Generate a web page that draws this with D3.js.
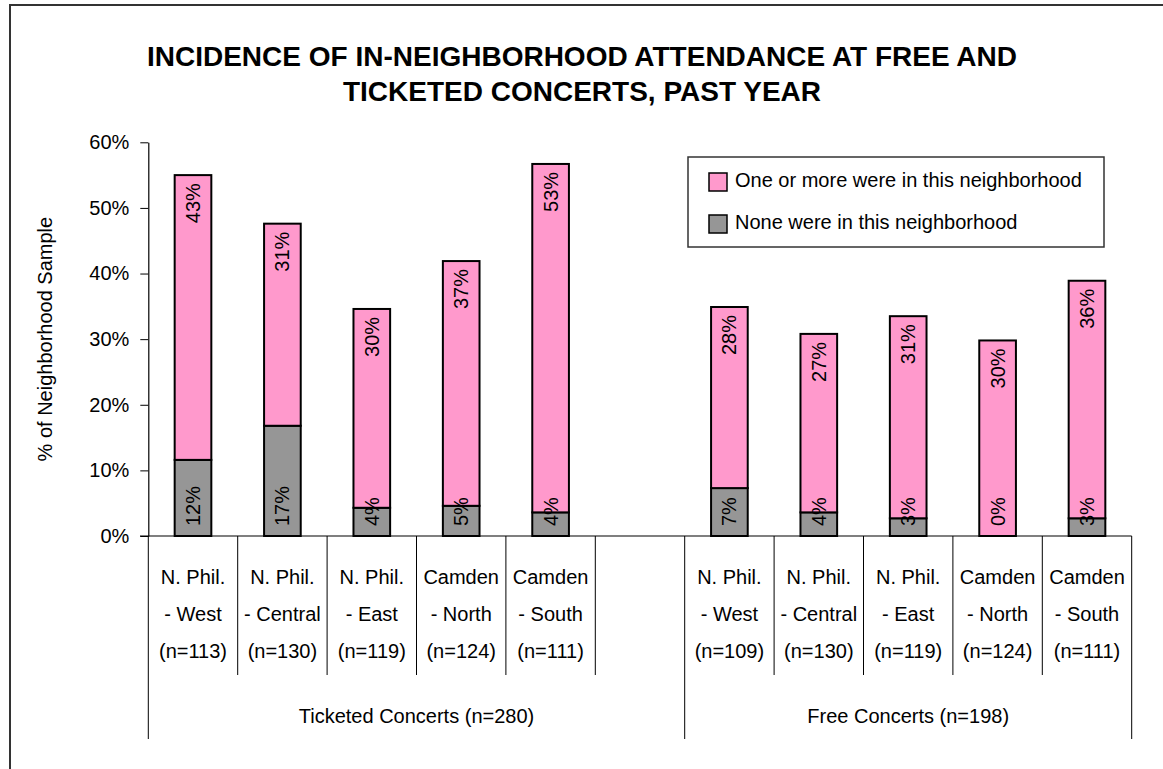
<!DOCTYPE html>
<html>
<head>
<meta charset="utf-8">
<script src="https://cdn.jsdelivr.net/npm/d3@7"></script>
<style>
  body { margin: 0; background: #fff; }
  svg { display: block; }
  text { font-family: "Liberation Sans", Arial, sans-serif; fill: #000; }
</style>
</head>
<body>
<svg id="chart" width="1163" height="769"></svg>
<script>
// ---- data ----
var groups = ["Ticketed Concerts (n=280)", "Free Concerts (n=198)"];
var areas = [["N. Phil.", "- West"], ["N. Phil.", "- Central"], ["N. Phil.", "- East"],
             ["Camden", "- North"], ["Camden", "- South"]];
var ticketedN = [113, 130, 119, 124, 111];
var freeN = [109, 130, 119, 124, 111];

var ticketedNone = [0.116, 0.168, 0.043, 0.046, 0.036];
var ticketedSome = [0.434, 0.308, 0.303, 0.373, 0.531];
var freeNone = [0.073, 0.036, 0.027, 0.000, 0.027];
var freeSome = [0.276, 0.272, 0.308, 0.298, 0.362];

var seriesNames = ["One or more were in this neighborhood", "None were in this neighborhood"];
var yTicks = [0, 0.1, 0.2, 0.3, 0.4, 0.5, 0.6];

var pink = "#FF99CC", grey = "#969696";

// build rows: 5 ticketed, one empty slot, 5 free
var rows = [];
areas.forEach(function(a, i) {
  rows.push({key: "T" + i, group: 0, lines: [a[0], a[1], "(n=" + ticketedN[i] + ")"],
             none: ticketedNone[i], some: ticketedSome[i]});
});
rows.push({key: "gap", group: 0, lines: null});
areas.forEach(function(a, i) {
  rows.push({key: "F" + i, group: 1, lines: [a[0], a[1], "(n=" + freeN[i] + ")"],
             none: freeNone[i], some: freeSome[i]});
});
var barRows = rows.filter(function(d) { return d.lines; });

var svg = d3.select("#chart");

// outer frame (runs off the right / bottom edge)
svg.append("rect").attr("x", 10).attr("y", 5).attr("width", 1200).attr("height", 800)
  .attr("fill", "none").attr("stroke", "#333").attr("stroke-width", 2);

// title
var title = ["INCIDENCE OF IN-NEIGHBORHOOD ATTENDANCE AT FREE AND", "TICKETED CONCERTS, PAST YEAR"];
svg.selectAll(".title").data(title).enter().append("text")
  .attr("class", "title")
  .attr("x", 582).attr("y", function(d, i) { return 66 + i * 35; })
  .attr("text-anchor", "middle")
  .style("font-size", "28px").style("font-weight", "bold")
  .text(function(d) { return d; });

// scales
var x = d3.scaleBand().domain(rows.map(function(d) { return d.key; }))
  .range([148.3, 1131.7]).padding(0);
var y = d3.scaleLinear().domain([0, 0.6]).range([536, 142.3]);
var barW = x.bandwidth() * 0.41;

// y axis
var yAxis = d3.axisLeft(y).tickValues(yTicks).tickFormat(d3.format(".0%"))
  .tickSize(8).tickSizeOuter(0).tickPadding(11);
var yg = svg.append("g").attr("transform", "translate(148.3,0)").call(yAxis);
yg.selectAll("text").style("font-size", "20px");
yg.selectAll("line, path").attr("stroke", "#000");
yg.select(".domain").attr("stroke-width", 1.2);

svg.append("text")
  .attr("transform", "translate(52," + (y(0.3)) + ") rotate(-90)")
  .attr("text-anchor", "middle")
  .style("font-size", "20px")
  .text("% of Neighborhood Sample");

// stacked bars
var stack = d3.stack().keys(["none", "some"]);
var layers = stack(barRows);
var colors = {none: grey, some: pink};

svg.selectAll(".layer").data(layers).enter().append("g")
  .attr("class", "layer")
  .attr("fill", function(d) { return colors[d.key]; })
  .selectAll("rect").data(function(d) { return d; }).enter().append("rect")
  .attr("x", function(d) { return x(d.data.key) + (x.bandwidth() - barW) / 2; })
  .attr("y", function(d) { return y(d[1]); })
  .attr("width", barW)
  .attr("height", function(d) { return y(d[0]) - y(d[1]); })
  .attr("stroke", "#000").attr("stroke-width", 2);

// value labels, rotated
var pct = d3.format(".0%");
barRows.forEach(function(d) {
  var cx = x(d.key) + x.bandwidth() / 2;
  svg.append("text")
    .attr("transform", "translate(" + cx + "," + (y(0) - 10) + ") rotate(-90)")
    .attr("dy", "0.35em").attr("text-anchor", "start")
    .style("font-size", "20px")
    .text(pct(d.none));
  svg.append("text")
    .attr("transform", "translate(" + cx + "," + (y(d.none + d.some) + 8) + ") rotate(-90)")
    .attr("dy", "0.35em").attr("text-anchor", "end")
    .style("font-size", "20px")
    .text(pct(d.some));
});

// x axis line + multi-level category separators
svg.append("line").attr("x1", 140).attr("x2", x.range()[1])
  .attr("y1", y(0)).attr("y2", y(0)).attr("stroke", "#000").attr("stroke-width", 1.2);

var edges = rows.map(function(d, i) {
  var long = i === 0 || (rows[i - 1] && rows[i - 1].group !== d.group);
  return {x: x(d.key), long: long};
});
edges.push({x: x.range()[1], long: true});
svg.selectAll(".sep").data(edges).enter().append("line")
  .attr("class", "sep")
  .attr("x1", function(d) { return d.x; }).attr("x2", function(d) { return d.x; })
  .attr("y1", y(0)).attr("y2", function(d) { return d.long ? 739 : 675; })
  .attr("stroke", "#000").attr("stroke-width", 1);

barRows.forEach(function(d) {
  var cx = x(d.key) + x.bandwidth() / 2;
  svg.append("text").attr("text-anchor", "middle").style("font-size", "20px")
    .selectAll("tspan").data(d.lines).enter().append("tspan")
    .attr("x", cx).attr("y", function(t, i) { return 584 + i * 37; })
    .text(function(t) { return t; });
});

groups.forEach(function(g, gi) {
  var keys = rows.filter(function(d) { return d.group === gi; });
  var x0 = x(keys[0].key), x1 = x(keys[keys.length - 1].key) + x.bandwidth();
  svg.append("text").attr("x", (x0 + x1) / 2).attr("y", 723)
    .attr("text-anchor", "middle").style("font-size", "20px").text(g);
});

// legend
var lg = svg.append("g").attr("transform", "translate(688,157)");
lg.append("rect").attr("width", 416).attr("height", 90)
  .attr("fill", "#fff").attr("stroke", "#333").attr("stroke-width", 1.5);
var legendColors = [pink, grey];
seriesNames.forEach(function(s, i) {
  lg.append("rect").attr("x", 21).attr("y", 16 + i * 42).attr("width", 18).attr("height", 18)
    .attr("fill", legendColors[i]).attr("stroke", "#000").attr("stroke-width", 1.5);
  lg.append("text").attr("x", 47).attr("y", 30 + i * 42).style("font-size", "20px").text(s);
});
</script>
</body>
</html>
